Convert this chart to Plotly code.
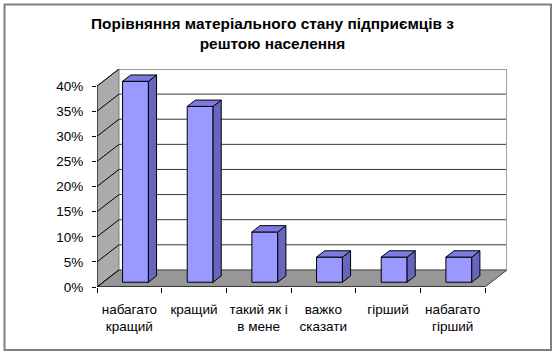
import plotly.graph_objects as go

# ---- data ----
categories = ["набагато<br>кращий", "кращий", "такий як і<br>в мене",
              "важко<br>сказати", "гірший", "набагато<br>гірший"]
values = [0.40, 0.35, 0.10, 0.05, 0.05, 0.05]
y_ticks = [0, 0.05, 0.10, 0.15, 0.20, 0.25, 0.30, 0.35, 0.40]
title_text = "Порівняння матеріального стану підприємців з<br>рештою населення"

# ---- pseudo-3D geometry (in axis units) ----
W, H = 558, 356
L, R, T, B = 97, 51, 69, 69
DX = 0.34      # depth offset along x (category units)
DY = 0.034     # depth offset along y (value units)
F0, F1 = 0.28, 0.65   # bar front / back depth fractions
BW = 0.40      # bar width
YMAX = max(y_ticks)
n = len(categories)
x0, x1 = -0.5, n - 0.5

FONT = "Arial, Liberation Sans, sans-serif"
FRONT = "#9999FF"
SIDE = "#6666C0"
TOP = "#7B7BE0"
EDGE = "#000000"

fig = go.Figure()

shapes = []
# left side wall
shapes.append(dict(type="path", layer="below", xref="x", yref="y",
                   path=f"M{x0},0 L{x0+DX},{DY} L{x0+DX},{YMAX+DY} L{x0},{YMAX} Z",
                   fillcolor="#ABABAB", line=dict(color="#808080", width=1)))
# floor
shapes.append(dict(type="path", layer="below", xref="x", yref="y",
                   path=f"M{x0},0 L{x1},0 L{x1+DX},{DY} L{x0+DX},{DY} Z",
                   fillcolor="#979797", line=dict(color="#404040", width=1)))
# back-wall gridlines and side-wall diagonals
for v in y_ticks:
    if v > 0:
        shapes.append(dict(type="line", layer="below", xref="x", yref="y",
                           x0=x0 + DX, y0=v + DY, x1=x1 + DX, y1=v + DY,
                           line=dict(color="#3A3A3A", width=1)))
    shapes.append(dict(type="line", layer="below", xref="x", yref="y",
                       x0=x0, y0=v, x1=x0 + DX, y1=v + DY,
                       line=dict(color="#000000", width=1)))
# back wall right edge
shapes.append(dict(type="line", layer="below", xref="x", yref="y",
                   x0=x1 + DX, y0=DY, x1=x1 + DX, y1=YMAX + DY,
                   line=dict(color="#A0A0A0", width=2)))
# front axes
shapes.append(dict(type="line", layer="above", xref="x", yref="y",
                   x0=x0, y0=0, x1=x0, y1=YMAX, line=dict(color="#000000", width=1)))
shapes.append(dict(type="line", layer="above", xref="x", yref="y",
                   x0=x0, y0=0, x1=x1, y1=0, line=dict(color="#000000", width=1)))

# outer chart border (paper coords)
pw = W - L - R
ph = H - T - B
def px(xp):
    return (xp - L) / pw
def py(yp):
    return (H - B - yp) / ph
shapes.append(dict(type="rect", xref="paper", yref="paper", layer="below",
                   x0=px(4.5), x1=px(551), y0=py(350), y1=py(4.5),
                   line=dict(color="#808080", width=2), fillcolor="rgba(0,0,0,0)"))

# bar front faces
xs = [i + F0 * DX for i in range(n)]
fig.add_trace(go.Bar(x=xs, y=values, base=F0 * DY, width=BW,
                     marker=dict(color=FRONT, line=dict(color=EDGE, width=1)),
                     hoverinfo="skip", showlegend=False))

ddx = (F1 - F0) * DX
ddy = (F1 - F0) * DY
for xc, v in zip(xs, values):
    xl, xr = xc - BW / 2, xc + BW / 2
    b, t = F0 * DY, v + F0 * DY
    # side face
    fig.add_trace(go.Scatter(x=[xr, xr + ddx, xr + ddx, xr, xr],
                             y=[b, b + ddy, t + ddy, t, b],
                             mode="lines", fill="toself", fillcolor=SIDE,
                             line=dict(color=EDGE, width=1),
                             hoverinfo="skip", showlegend=False))
    # top face
    fig.add_trace(go.Scatter(x=[xl, xr, xr + ddx, xl + ddx, xl],
                             y=[t, t, t + ddy, t + ddy, t],
                             mode="lines", fill="toself", fillcolor=TOP,
                             line=dict(color=EDGE, width=1),
                             hoverinfo="skip", showlegend=False))

fig.update_layout(
    width=W, height=H,
    margin=dict(l=L, r=R, t=T, b=B, pad=0, autoexpand=False),
    paper_bgcolor="white", plot_bgcolor="white",
    font=dict(family=FONT, size=13.5, color="#000000"),
    shapes=shapes,
    showlegend=False,
    title=dict(text="<b>" + title_text + "</b>", xref="container", yref="container",
               x=272.5 / W, xanchor="center", y=1 - 29 / H, yanchor="middle",
               font=dict(family=FONT, size=15.4, color="#000000")),
    xaxis=dict(range=[x0, x1 + DX], tickvals=list(range(n)), ticktext=categories,
               ticks="", showgrid=False, zeroline=False, showline=False,
               ticklabelstandoff=12, automargin=False,
               minor=dict(tickvals=[i - 0.5 for i in range(n + 1)], ticks="outside",
                          ticklen=5, tickcolor="#000000", showgrid=False),
               fixedrange=True),
    yaxis=dict(range=[0, YMAX + DY], tickvals=y_ticks, tickformat=".0%",
               ticks="outside", ticklen=4, tickcolor="#000000",
               showgrid=False, zeroline=False, showline=False,
               ticklabelstandoff=6, automargin=False, fixedrange=True),
)

fig.write_html("out.html", config={"displayModeBar": False},
               post_script="document.body.style.margin='0';")
